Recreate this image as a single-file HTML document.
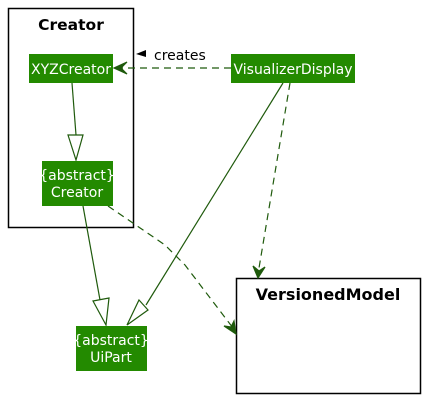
<!DOCTYPE html>
<html><head><style>
html,body{margin:0;padding:0;background:#fff;width:426px;height:400px;overflow:hidden}
</style></head><body>
<svg width="426" height="400" xmlns="http://www.w3.org/2000/svg" font-family="DejaVu Sans, sans-serif">
<rect x="0" y="0" width="426" height="400" fill="#fff"/>
<rect x="8.5" y="8.5" width="125" height="219" fill="none" stroke="#000" stroke-width="1.5"/>
<text x="71" y="30" font-size="15.5" font-weight="bold" text-anchor="middle">Creator</text>
<rect x="236.5" y="278.5" width="184" height="115" fill="none" stroke="#000" stroke-width="1.5"/>
<text x="328" y="300" font-size="16" font-weight="bold" text-anchor="middle">VersionedModel</text>

<g stroke="#1f5a0c" stroke-width="1.2" fill="none">
<line x1="231" y1="68" x2="116" y2="68" stroke-dasharray="7,5"/>
<path d="M127,62 L114,68 L127,74 L121,68 Z" fill="#1f5a0c"/>
<line x1="72" y1="83" x2="76" y2="135"/>
<polygon points="68,135 83,135 76,160" fill="#fff"/>
<line x1="83" y1="206" x2="100" y2="300"/>
<polygon points="93,301 109,298 106,325" fill="#fff"/>
<line x1="283" y1="83" x2="146" y2="305"/>
<polygon points="139,300 148,310 127,325" fill="#fff"/>
<line x1="290" y1="83" x2="258" y2="274" stroke-dasharray="7,5"/>
<path d="M253,266 L258,278 L265,267 L259,271 Z" fill="#1f5a0c"/>
<path d="M108,206 L165,245 L185,265 L233,328" stroke-dasharray="7,5"/>
<path d="M224,326 L236,334 L234,321 L231,327 Z" fill="#1f5a0c"/>
</g>
<polygon points="136,54 146,50 146,57" fill="#000"/>
<text x="154" y="60" font-size="14" fill="#000">creates</text>

<g fill="#238a00">
<rect x="29" y="54" width="84" height="29"/>
<rect x="42" y="161" width="71" height="45"/>
<rect x="231" y="54" width="124" height="29"/>
<rect x="76" y="326" width="71" height="45"/>
</g>
<g fill="#fff" font-size="14" text-anchor="middle">
<text x="71" y="74">XYZCreator</text>
<text x="77" y="180">{abstract}</text>
<text x="77" y="197">Creator</text>
<text x="293" y="74">VisualizerDisplay</text>
<text x="111" y="345">{abstract}</text>
<text x="111" y="362">UiPart</text>
</g>
</svg>
</body></html>
